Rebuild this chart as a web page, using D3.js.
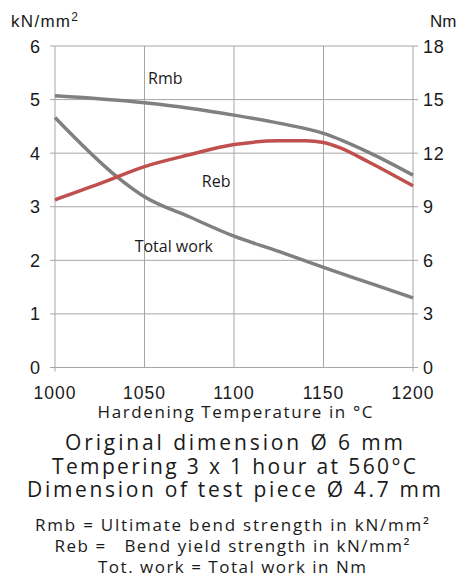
<!DOCTYPE html>
<html>
<head>
<meta charset="utf-8">
<script src="https://cdn.jsdelivr.net/npm/d3@7"></script>
<style>
  body { margin: 0; background: #fff; }
  text { fill: #1a1a1a; }
</style>
</head>
<body>
<div id="chart"></div>
<script>
// data
const temps = [1000, 1035, 1050, 1075, 1100, 1125, 1150, 1175, 1200];
const workValues = [14.0, 10.65, 9.56, 8.44, 7.35, 6.5, 5.6, 4.75, 3.9];
const rmbTemps = [1000, 1050, 1075, 1100, 1125, 1150, 1175, 1200];
const rmbValues = [5.07, 4.94, 4.84, 4.71, 4.56, 4.37, 4.02, 3.59];
const rebTemps = [1000, 1025, 1050, 1075, 1100, 1125, 1140, 1150, 1160, 1175, 1200];
const rebValues = [3.13, 3.43, 3.75, 3.97, 4.16, 4.23, 4.23, 4.20, 4.09, 3.84, 3.39];
const xTicks = [1000, 1050, 1100, 1150, 1200];
const leftTicks = [0, 1, 2, 3, 4, 5, 6];
const rightTicks = [0, 3, 6, 9, 12, 15, 18];
const curveNames = ["Rmb", "Reb", "Total work"];
const notes = [
  "Original dimension Ø 6 mm",
  "Tempering 3 x 1 hour at 560°C",
  "Dimension of test piece Ø 4.7 mm"
];
const legendLines = [
  "Rmb = Ultimate bend strength in kN/mm²",
  "Reb =   Bend yield strength in kN/mm²",
  "Tot. work = Total work in Nm"
];

const W = 462, H = 575;
const margin = { top: 46, right: 49, bottom: 207.5, left: 55 },
  width = W - margin.left - margin.right,
  height = H - margin.top - margin.bottom;

const svg = d3.select("#chart").append("svg")
  .attr("width", W).attr("height", H);
const g = svg.append("g").attr("transform", `translate(${margin.left},${margin.top})`);

const x = d3.scaleLinear().domain([1000, 1200]).range([0, width]);
const yL = d3.scaleLinear().domain([0, 6]).range([height, 0]);
const yR = d3.scaleLinear().domain([0, 18]).range([height, 0]);

const gridColor = "#a6a6a6";

// horizontal grid, sticking out a bit on both sides
g.selectAll(".hgrid").data(leftTicks).join("line")
  .attr("x1", -5).attr("x2", width + 5)
  .attr("y1", d => yL(d)).attr("y2", d => yL(d))
  .attr("stroke", gridColor).attr("stroke-width", 1);

// vertical grid
g.selectAll(".vgrid").data(xTicks).join("line")
  .attr("x1", d => x(d)).attr("x2", d => x(d))
  .attr("y1", 0)
  .attr("y2", d => (d === 1000 || d === 1200) ? height + 4 : height)
  .attr("stroke", gridColor).attr("stroke-width", 1);

// tick labels
const tickFont = "'Liberation Sans', Arial, sans-serif";
g.selectAll(".lt").data(leftTicks).join("text")
  .attr("x", -15).attr("y", d => yL(d) + 6.5)
  .attr("text-anchor", "end")
  .style("font-family", tickFont).style("font-size", "18px")
  .text(d => d);
g.selectAll(".rt").data(rightTicks).join("text")
  .attr("x", width + 10).attr("y", d => yR(d) + 6.5)
  .style("font-family", tickFont).style("font-size", "18px")
  .style("letter-spacing", "0.8px")
  .text(d => d);
g.selectAll(".xt").data(xTicks).join("text")
  .attr("x", d => x(d)).attr("y", height + 31.5)
  .attr("text-anchor", "middle")
  .style("font-family", tickFont).style("font-size", "17.5px")
  .style("letter-spacing", "1px")
  .text(d => d);

// unit labels
svg.append("text").attr("x", 11).attr("y", 27)
  .style("font-family", tickFont).style("font-size", "17px")
  .style("letter-spacing", "1.3px")
  .html("kN/mm<tspan dy='-6' font-size='12px'>2</tspan>");
svg.append("text").attr("x", 430).attr("y", 27)
  .style("font-family", tickFont).style("font-size", "17px")
  .text("Nm");

// curves
const lineL = d3.line().x(d => x(d[0])).y(d => yL(d[1])).curve(d3.curveMonotoneX);
const lineR = d3.line().x(d => x(d[0])).y(d => yR(d[1])).curve(d3.curveMonotoneX);

g.append("path").datum(d3.zip(temps, workValues))
  .attr("d", lineR).attr("fill", "none")
  .attr("stroke", "#808080").attr("stroke-width", 3.5);
g.append("path").datum(d3.zip(rmbTemps, rmbValues))
  .attr("d", lineL).attr("fill", "none")
  .attr("stroke", "#808080").attr("stroke-width", 3.5);
g.append("path").datum(d3.zip(rebTemps, rebValues))
  .attr("d", lineL).attr("fill", "none")
  .attr("stroke", "#c0504d").attr("stroke-width", 3.5);

// curve names (baseline anchored in data units)
const namePos = [[1052, 5.30], [1082, 3.36], [1044.5, 2.16]];
g.selectAll(".cname").data(curveNames).join("text")
  .attr("x", (d, i) => x(namePos[i][0]))
  .attr("y", (d, i) => yL(namePos[i][1]))
  .style("font-family", "'Open Sans', 'Liberation Sans', sans-serif")
  .style("font-size", "16px")
  .text(d => d);

// axis title and notes
const noteFont = "'Open Sans', 'DejaVu Sans', sans-serif";
svg.append("text").attr("x", 235).attr("y", 418)
  .attr("text-anchor", "middle")
  .attr("textLength", 275).attr("lengthAdjust", "spacing")
  .style("font-family", noteFont).style("font-size", "17px")
  .text("Hardening Temperature in °C");

const noteW = [338, 364, 414];
svg.selectAll(".note").data(notes).join("text")
  .attr("x", 234).attr("y", (d, i) => 450 + i * 23.5)
  .attr("text-anchor", "middle")
  .attr("textLength", (d, i) => noteW[i]).attr("lengthAdjust", "spacing")
  .style("font-family", noteFont).style("font-size", "21px")
  .text(d => d);

const legW = [394, 355, 268];
svg.selectAll(".leg").data(legendLines).join("text")
  .attr("x", 232).attr("y", (d, i) => 531 + i * 21)
  .attr("text-anchor", "middle")
  .attr("textLength", (d, i) => legW[i]).attr("lengthAdjust", "spacing")
  .style("font-family", noteFont).style("font-size", "17px")
  .style("white-space", "pre")
  .text(d => d);
</script>
</body>
</html>
